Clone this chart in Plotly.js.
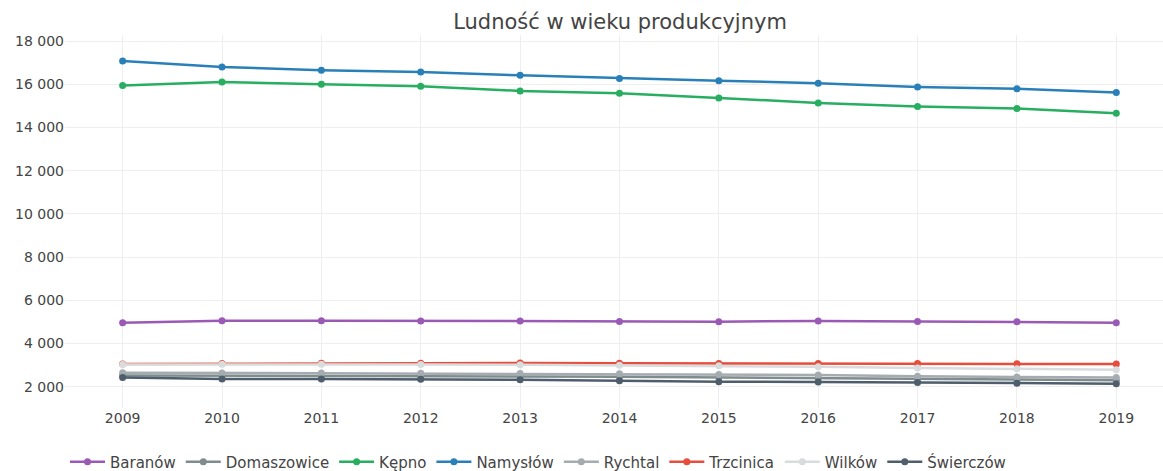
<!DOCTYPE html>
<html>
<head>
<meta charset="utf-8">
<script src="https://cdn.plot.ly/plotly-3.0.1.min.js"></script>
<style>html,body{margin:0;padding:0;background:#fff;}#chart{width:1163px;height:471px;}</style>
</head>
<body>
<div id="chart"></div>
<script>
const years = [2009, 2010, 2011, 2012, 2013, 2014, 2015, 2016, 2017, 2018, 2019];
const names = ["Baranów", "Domaszowice", "Kępno", "Namysłów", "Rychtal", "Trzcinica", "Wilków", "Świerczów"];
const baranow = [4965, 5058, 5058, 5043, 5035, 5015, 5010, 5043, 5015, 5005, 4965];
const domaszowice = [2520, 2500, 2490, 2480, 2470, 2460, 2420, 2400, 2360, 2330, 2300];
const kepno = [15945, 16100, 16000, 15905, 15690, 15585, 15365, 15135, 14965, 14875, 14655];
const namyslow = [17070, 16800, 16650, 16560, 16410, 16270, 16160, 16050, 15870, 15790, 15620];
const rychtal = [2650, 2635, 2630, 2625, 2615, 2600, 2560, 2540, 2480, 2450, 2420];
const trzcinica = [3050, 3070, 3080, 3090, 3100, 3090, 3075, 3070, 3070, 3065, 3045];
const wilkow = [3030, 3040, 3035, 3030, 3020, 2995, 2965, 2920, 2870, 2825, 2780];
const swierczow = [2420, 2360, 2355, 2350, 2325, 2280, 2230, 2220, 2190, 2160, 2140];
const series = [baranow, domaszowice, kepno, namyslow, rychtal, trzcinica, wilkow, swierczow];
const colors = ["#9b59b6", "#7f8c8d", "#27ae60", "#2980b9", "#a5acaf", "#e74c3c", "#d9dcdd", "#4e5e6d"];

const traces = series.map((vals, i) => ({
  type: "scatter",
  mode: "lines+markers",
  name: names[i],
  x: years,
  y: vals,
  line: {color: colors[i], width: 2.5},
  marker: {color: colors[i], size: 7}
}));

const layout = {
  width: 1163,
  height: 471,
  separators: ", ",
  paper_bgcolor: "#fff",
  plot_bgcolor: "#fff",
  font: {family: "DejaVu Sans, Verdana, sans-serif", size: 14, color: "#444"},
  title: {text: "Ludność w wieku produkcyjnym", x: 0.5055, xref: "paper", y: 0.955, yanchor: "middle",
          font: {family: "DejaVu Sans, Verdana, sans-serif", size: 21, color: "#444"}},
  margin: {l: 65, r: 0, t: 35, b: 63},
  xaxis: {range: [2008.42, 2019.47], tickvals: years, ticktext: years.map(String),
          showgrid: true, gridcolor: "#eeeeee", zeroline: false, showline: false,
          tickfont: {size: 14, color: "#444"}},
  yaxis: {range: [1014, 18278], tickvals: [2000, 4000, 6000, 8000, 10000, 12000, 14000, 16000, 18000],
          tickformat: ",d", showgrid: true, gridcolor: "#eeeeee", zeroline: false, showline: false,
          tickfont: {size: 14, color: "#444"}},
  legend: {orientation: "h", x: 0, xanchor: "left", yref: "container", y: 0.019, yanchor: "middle",
           itemwidth: 35, font: {size: 15, color: "#444"}},
  showlegend: true
};

Plotly.newPlot("chart", traces, layout, {displayModeBar: false, staticPlot: true});
</script>
</body>
</html>
